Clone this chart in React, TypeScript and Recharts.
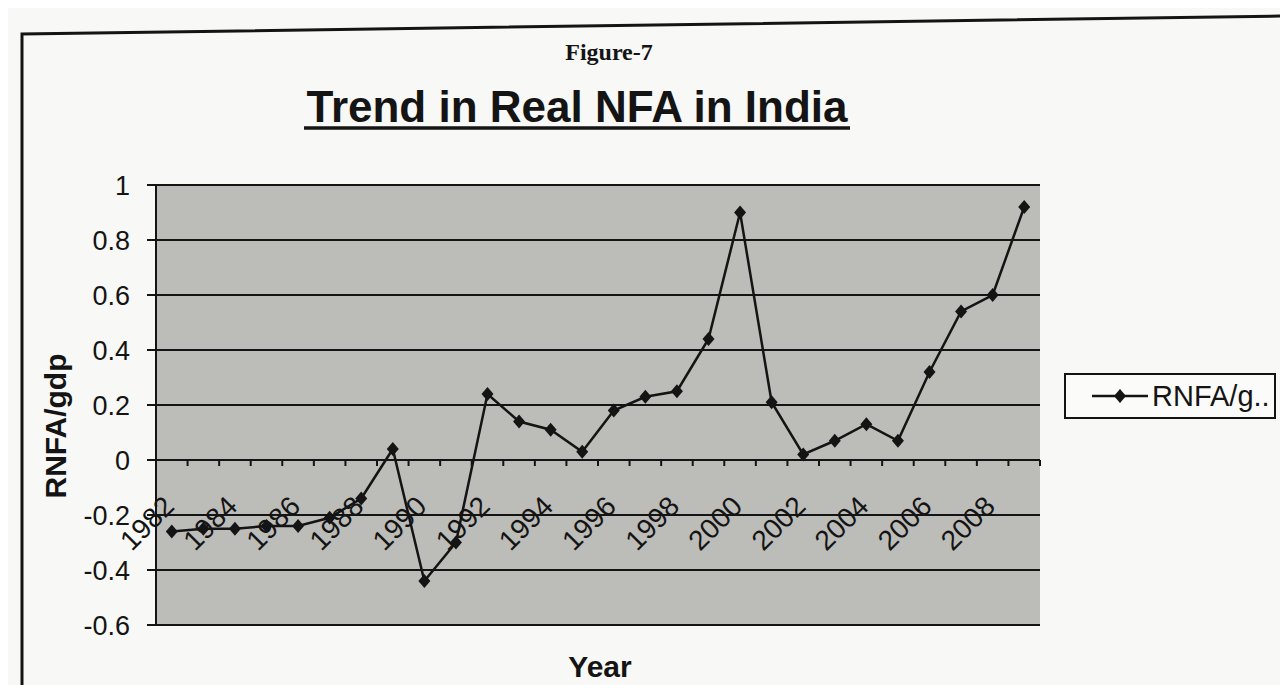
import React from 'react';
import { LineChart, Line, XAxis, YAxis, CartesianGrid, Legend } from 'recharts';

// Real net foreign assets as a share of GDP, India
const years = [
  '1982', '1983', '1984', '1985', '1986', '1987', '1988', '1989', '1990', '1991',
  '1992', '1993', '1994', '1995', '1996', '1997', '1998', '1999', '2000', '2001',
  '2002', '2003', '2004', '2005', '2006', '2007', '2008', '2009',
];
const rnfaGdp = [
  -0.26, -0.25, -0.25, -0.24, -0.24, -0.21, -0.14, 0.04, -0.44, -0.3,
  0.24, 0.14, 0.11, 0.03, 0.18, 0.23, 0.25, 0.44, 0.9, 0.21,
  0.02, 0.07, 0.13, 0.07, 0.32, 0.54, 0.6, 0.92,
];
const yTicks = [-0.6, -0.4, -0.2, 0, 0.2, 0.4, 0.6, 0.8, 1];

const data = years.map((year, i) => ({ year, rnfa: rnfaGdp[i] }));

const W = 1288;
const H = 693;
const MARGIN = { top: 185, right: 248, bottom: 67, left: 0 };
const X_AXIS_H = 1;
const Y_AXIS_W = 156;
const PLOT_W = W - MARGIN.right - Y_AXIS_W;
const PLOT_H = H - MARGIN.top - MARGIN.bottom - X_AXIS_H;
const BAND = PLOT_W / years.length;
const Y_MIN = -0.6;
const Y_MAX = 1;
const ZERO_Y = MARGIN.top + (PLOT_H * Y_MAX) / (Y_MAX - Y_MIN);

const FONT = 'Arial, "Liberation Sans", sans-serif';
const INK = '#141414';
const PLOT_BG = '#bcbcb9';

// category labels sit under the zero line, like the original spreadsheet chart
const YearTick = (props: any) => {
  const { x, payload, index } = props;
  return (
    <g>
      <line x1={x + BAND / 2} x2={x + BAND / 2} y1={ZERO_Y} y2={ZERO_Y + 6} stroke={INK} strokeWidth={2} />
      {index % 2 === 0 && (
        <text
          transform={`translate(${x + 4},${ZERO_Y + 48}) rotate(-45)`}
          textAnchor="end"
          fontSize={28}
          fontFamily={FONT}
          fill={INK}
        >
          {payload.value}
        </text>
      )}
    </g>
  );
};

const Diamond = (props: any) => {
  const { cx, cy, index } = props;
  if (cx == null || cy == null) return <g key={`d-${index}`} />;
  return (
    <path
      key={`d-${index}`}
      d={`M${cx},${cy - 7}L${cx + 6},${cy}L${cx},${cy + 7}L${cx - 6},${cy}Z`}
      fill={INK}
    />
  );
};

const LegendBox = () => (
  <div
    style={{
      width: 212,
      height: 46,
      border: `2px solid ${INK}`,
      boxSizing: 'border-box',
      display: 'flex',
      alignItems: 'center',
      background: '#fbfbf9',
    }}
  >
    <svg width={86} height={20} style={{ flex: 'none' }}>
      <line x1={26} x2={82} y1={10} y2={10} stroke={INK} strokeWidth={2.5} />
      <path d="M54,3L60,10L54,17L48,10Z" fill={INK} />
    </svg>
    <span style={{ fontFamily: FONT, fontSize: 29, color: INK, lineHeight: 1 }}>RNFA/g..</span>
  </div>
);

export default function App() {
  return (
    <div style={{ position: 'relative', width: W, height: H, margin: -8, background: '#f8f8f6', overflow: 'hidden' }}>
      <LineChart width={W} height={H} data={data} margin={MARGIN}>
        <CartesianGrid vertical={false} stroke={INK} strokeWidth={2} fill={PLOT_BG} fillOpacity={1} />
        <XAxis
          dataKey="year"
          interval={0}
          height={X_AXIS_H}
          padding={{ left: BAND / 2, right: BAND / 2 }}
          axisLine={false}
          tickLine={false}
          tick={<YearTick />}
        />
        <YAxis
          domain={[Y_MIN, Y_MAX]}
          ticks={yTicks}
          width={Y_AXIS_W}
          axisLine={{ stroke: INK, strokeWidth: 2 }}
          tickLine={{ stroke: INK, strokeWidth: 2 }}
          tickSize={9}
          tickMargin={17}
          tick={{ fontSize: 27, fontFamily: FONT, fill: INK }}
          label={{
            content: () => (
              <text
                transform="translate(66,426) rotate(-90)"
                textAnchor="middle"
                fontSize={30}
                fontWeight="bold"
                fontFamily={FONT}
                fill={INK}
              >
                RNFA/gdp
              </text>
            ),
          }}
        />
        <YAxis
          yAxisId="frame"
          orientation="right"
          domain={[Y_MIN, Y_MAX]}
          width={0}
          tick={false}
          tickLine={false}
          axisLine={{ stroke: INK, strokeWidth: 2 }}
        />
        <Legend
          layout="vertical"
          align="center"
          verticalAlign="middle"
          content={<LegendBox />}
          wrapperStyle={{ left: 1064, top: 373, width: 212 }}
        />
        <Line
          type="linear"
          dataKey="rnfa"
          name="RNFA/gdp"
          stroke={INK}
          strokeWidth={2.5}
          dot={(p: any) => <Diamond {...p} />}
          activeDot={false}
          isAnimationActive={false}
        />
      </LineChart>
      <svg width={W} height={H} style={{ position: 'absolute', left: 0, top: 0, pointerEvents: 'none' }}>
        <path d="M22,693L22,34L1288,16" fill="none" stroke={INK} strokeWidth={3} />
        <line x1={0} x2={W} y1={691} y2={691} stroke={INK} strokeWidth={3} />
        <text x={609} y={60} textAnchor="middle" fontSize={24} fontWeight="bold" fontFamily='"Liberation Serif", serif' fill={INK}>
          Figure-7
        </text>
        <text x={577} y={122} textAnchor="middle" fontSize={44} fontWeight="bold" fontFamily={FONT} fill={INK}>
          Trend in Real NFA in India
        </text>
        <line x1={304} x2={850} y1={128} y2={128} stroke={INK} strokeWidth={3.5} />
        <text x={600} y={677} textAnchor="middle" fontSize={30} fontWeight="bold" fontFamily={FONT} fill={INK}>
          Year
        </text>
      </svg>
    </div>
  );
}
